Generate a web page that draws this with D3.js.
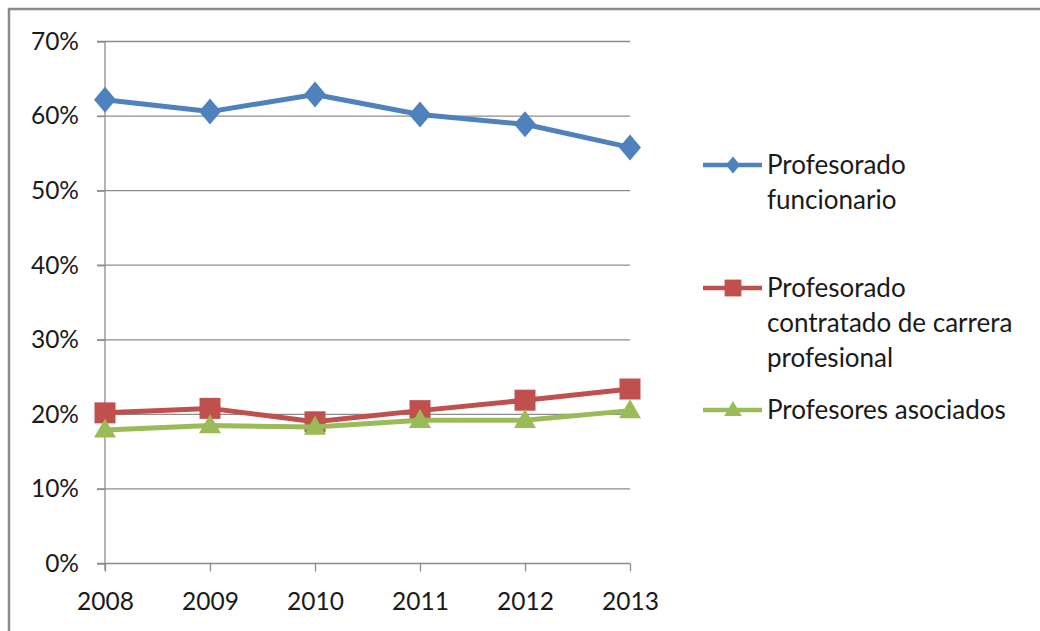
<!DOCTYPE html>
<html>
<head>
<meta charset="utf-8">
<script src="https://cdn.jsdelivr.net/npm/d3@7"></script>
<style>
    body { margin: 0; background: #fff; }
    text { font-family: Lato, "Open Sans", sans-serif; fill: #1a1a1a; }
</style>
</head>
<body>
<div id="chart"></div>
<script>
// data
let years = ["2008", "2009", "2010", "2011", "2012", "2013"];
let funcionario = [62.2, 60.6, 62.9, 60.2, 58.9, 55.8];
let contratado = [20.2, 20.8, 19.0, 20.5, 21.9, 23.4];
let asociados = [17.9, 18.5, 18.3, 19.2, 19.2, 20.5];
let yTicks = [0, 10, 20, 30, 40, 50, 60, 70];

let seriesNames = [
    ["Profesorado", "funcionario"],
    ["Profesorado", "contratado de carrera", "profesional"],
    ["Profesores asociados"]
];
let seriesColors = ["#4F81BD", "#C0504D", "#9BBB59"];
let seriesShapes = ["diamond", "square", "triangle"];

let series = [funcionario, contratado, asociados].map((vals, i) => ({
    name: seriesNames[i],
    color: seriesColors[i],
    shape: seriesShapes[i],
    values: vals.map((v, j) => ({year: years[j], value: v}))
}));

// marker outline, centred on 0,0; k scales it
function marker(shape, k) {
    if (shape === "diamond") {
        let w = 11 * k, h = 13 * k;
        return `M0,${-h}L${w},0L0,${h}L${-w},0Z`;
    }
    if (shape === "square") {
        let s = 10.5 * k;
        return `M${-s},${-s}H${s}V${s}H${-s}Z`;
    }
    let w = 11 * k, h = 19 * k;
    return `M0,${-h * 0.6}L${w},${h * 0.4}H${-w}Z`;
}

let width = 1040, height = 631;
let svg = d3.select("#chart").append("svg")
    .attr("width", width)
    .attr("height", height);

// outer chart border (only top/left visible in frame)
svg.append("rect")
    .attr("x", 9).attr("y", 9)
    .attr("width", width + 20).attr("height", height + 20)
    .attr("fill", "none")
    .attr("stroke", "#8a8a8a")
    .attr("stroke-width", 2.5);

let x = d3.scalePoint().domain(years).range([105, 630]);
let y = d3.scaleLinear().domain([0, 70]).range([563.5, 41.5]);

// gridlines
svg.append("g")
    .selectAll("line")
    .data(yTicks.filter(d => d > 0))
    .enter().append("line")
    .attr("x1", 97).attr("x2", 630)
    .attr("y1", d => y(d)).attr("y2", d => y(d))
    .attr("stroke", "#8c8c8c")
    .attr("stroke-width", 1.3);

// y axis
let yAxis = svg.append("g")
    .attr("transform", "translate(105,0)")
    .call(d3.axisLeft(y).tickValues(yTicks).tickFormat(d => d + "%").tickSize(8).tickPadding(18));
yAxis.select(".domain").attr("stroke", "#8c8c8c").attr("stroke-width", 1.3).attr("d", `M0,${y(70)}V${y(0) + 7}`);
yAxis.selectAll(".tick line").attr("stroke", "#8c8c8c").attr("stroke-width", 1.3);
yAxis.selectAll("text").style("font-size", "24.5px").attr("fill", "#1a1a1a");

// x axis
let xAxis = svg.append("g")
    .attr("transform", `translate(0,${y(0)})`)
    .call(d3.axisBottom(x).tickSize(8).tickPadding(21));
xAxis.select(".domain").attr("stroke", "#8c8c8c").attr("stroke-width", 1.3).attr("d", `M97,0H630`);
xAxis.selectAll(".tick line").attr("stroke", "#8c8c8c").attr("stroke-width", 1.3);
xAxis.selectAll("text").style("font-size", "24.5px").attr("fill", "#1a1a1a");

// lines and markers
let line = d3.line().x(d => x(d.year)).y(d => y(d.value));

series.forEach(s => {
    svg.append("path")
        .datum(s.values)
        .attr("fill", "none")
        .attr("stroke", s.color)
        .attr("stroke-width", 5)
        .attr("stroke-linejoin", "round")
        .attr("d", line);

    svg.append("g")
        .selectAll("path")
        .data(s.values)
        .enter().append("path")
        .attr("transform", d => `translate(${x(d.year)},${y(d.value)})`)
        .attr("d", marker(s.shape, 1))
        .attr("fill", s.color);
});

// legend
let legendY = [165, 288, 410];
let legend = svg.append("g");
series.forEach((s, i) => {
    let g = legend.append("g").attr("transform", `translate(0,${legendY[i]})`);
    g.append("line")
        .attr("x1", 703).attr("x2", 762)
        .attr("stroke", s.color).attr("stroke-width", 4.5);
    g.append("path")
        .attr("transform", "translate(733,0)")
        .attr("d", marker(s.shape, s.shape === "diamond" ? 0.65 : 0.8))
        .attr("fill", s.color);
    s.name.forEach((t, k) => {
        g.append("text")
            .attr("x", 767)
            .attr("y", k * 35)
            .attr("dy", "0.35em")
            .style("font-size", "26px")
            .text(t);
    });
});
</script>
</body>
</html>
